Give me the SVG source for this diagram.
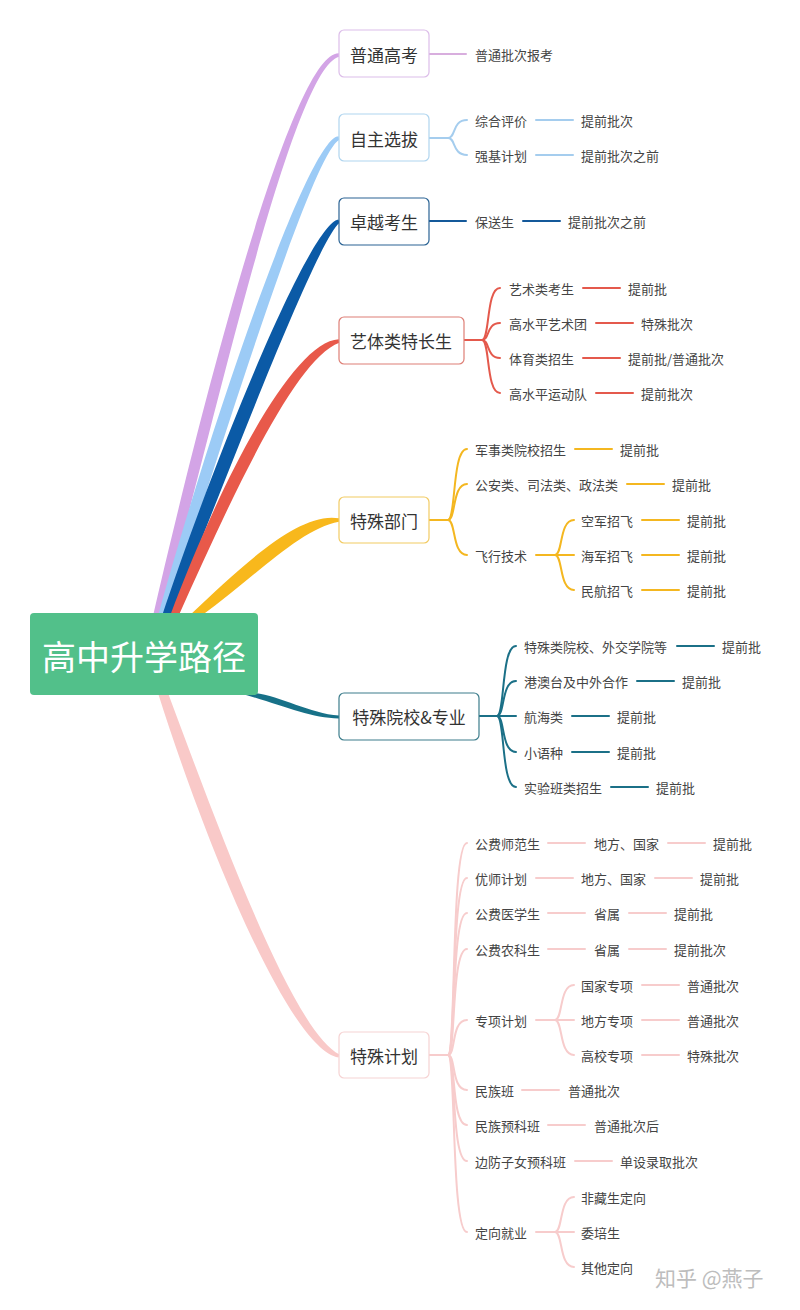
<svg xmlns="http://www.w3.org/2000/svg" width="800" height="1310" viewBox="0 0 800 1310">
<style>
.t{font-family:"Noto Sans CJK SC","Noto Sans",sans-serif;font-size:13px;fill:#444;dominant-baseline:central}
.n{font-family:"Noto Sans CJK SC","Noto Sans",sans-serif;font-size:17px;fill:#333;dominant-baseline:central}
.c{fill:none;stroke-width:2;stroke-linecap:round}
.box{fill:#fff;stroke-width:1.2}
</style>
<rect width="800" height="1310" fill="#fff"/>
<g id="branches">
<path d="M153,616 C191.8,447.8 289.1,51.5 338.9,53.3 L339.1,56.7 C290.9,68.5 208.2,452.2 161,616 Z" fill="#d3a4e6"/>
<path d="M158,616 C206.9,437.5 308,136.7 338.6,136.3 L339.4,139.7 C312,153.3 223.1,442.5 166,616 Z" fill="#9ccbf6"/>
<path d="M162,616 C211.6,466.8 308.1,225.9 338.2,219.4 L339.8,222.6 C315.9,242.1 228.4,473.2 171,616 Z" fill="#0b5aa6"/>
<path d="M170,616 C222.2,476.7 293.3,341.7 338.7,339.3 L339.3,342.7 C296.7,358.3 237.8,483.3 178.5,616 Z" fill="#e8594a"/>
<path d="M189,616 C244.8,563.3 299.6,511.5 339,518.3 L339,521.7 C300.4,528.5 255.2,576.7 201,616 Z" fill="#f8b81c"/>
<path d="M255,693 C280.6,696 310,713.5 339,715.6 L339,718.4 C310,718.5 279.4,704 239,693 Z" fill="#177188"/>
<path d="M168,693 C218,827.2 292.6,1031.9 339.5,1054.4 L338.5,1057.6 C287.4,1048.1 202,832.8 158,693 Z" fill="#f9c9c8"/>
</g>
<g id="connectors">
<g stroke="#d8aede" class="c"><path d="M429,54 H466"/></g>
<g stroke="#a5cdee" class="c">
<path d="M429,138 H448"/><path d="M448,138 C456,138 452,120 467,120"/><path d="M448,138 C456,138 452,155 467,155"/>
<path d="M536,120 H573"/><path d="M536,155 H573"/>
</g>
<g stroke="#14599a" class="c"><path d="M429,221 H466"/><path d="M523,221 H560"/></g>
<g stroke="#e4594c" class="c">
<path d="M464,340 H482"/>
<path d="M482,340 C490,340 486,288 500,288"/><path d="M482,340 C490,340 486,323 500,323"/>
<path d="M482,340 C490,340 486,358 500,358"/><path d="M482,340 C490,340 486,393 500,393"/>
<path d="M583,288 H620"/><path d="M596,323 H633"/><path d="M583,358 H620"/><path d="M596,393 H633"/>
</g>
<g stroke="#f4b720" class="c">
<path d="M429,520 H448"/>
<path d="M448,520 C456,520 452,449 467,449"/><path d="M448,520 C456,520 452,484 467,484"/><path d="M448,520 C456,520 452,555 467,555"/>
<path d="M575,449 H612"/><path d="M627,484 H664"/>
<path d="M536,555 H555"/>
<path d="M555,555 C563,555 559,520 574,520"/><path d="M555,555 H574"/><path d="M555,555 C563,555 559,590 574,590"/>
<path d="M642,520 H679"/><path d="M642,555 H679"/><path d="M642,590 H679"/>
</g>
<g stroke="#1b7087" class="c">
<path d="M479,716 H497"/>
<path d="M497,716 C505,716 501,646 516,646"/><path d="M497,716 C505,716 501,681 516,681"/>
<path d="M497,716 H516"/>
<path d="M497,716 C505,716 501,752 516,752"/><path d="M497,716 C505,716 501,787 516,787"/>
<path d="M677,646 H714"/><path d="M637,681 H674"/><path d="M572,716 H609"/><path d="M572,752 H609"/><path d="M611,787 H648"/>
</g>
<g stroke="#f7cccc" class="c">
<path d="M429,1055 H448"/>
<path d="M448,1055 C456,1055 451,843 467,843"/>
<path d="M448,1055 C456,1055 451,878 467,878"/>
<path d="M448,1055 C456,1055 451,913 467,913"/>
<path d="M448,1055 C456,1055 451,949 467,949"/>
<path d="M448,1055 C456,1055 451,1020 467,1020"/>
<path d="M448,1055 C456,1055 451,1090 467,1090"/>
<path d="M448,1055 C456,1055 451,1125 467,1125"/>
<path d="M448,1055 C456,1055 451,1161 467,1161"/>
<path d="M448,1055 C456,1055 451,1232 467,1232"/>
<path d="M548,843 H585"/><path d="M668,843 H705"/>
<path d="M536,878 H573"/><path d="M655,878 H692"/>
<path d="M548,913 H585"/><path d="M629,913 H666"/>
<path d="M548,949 H585"/><path d="M629,949 H666"/>
<path d="M536,1020 H555"/>
<path d="M555,1020 C563,1020 559,985 574,985"/><path d="M555,1020 H574"/><path d="M555,1020 C563,1020 559,1055 574,1055"/>
<path d="M642,985 H679"/><path d="M642,1020 H679"/><path d="M642,1055 H679"/>
<path d="M522,1090 H559"/>
<path d="M548,1125 H585"/>
<path d="M575,1161 H612"/>
<path d="M536,1232 H555"/>
<path d="M555,1232 C563,1232 559,1197 574,1197"/><path d="M555,1232 H574"/><path d="M555,1232 C563,1232 559,1267 574,1267"/>
</g>
</g>
<g id="root">
<rect x="30" y="613" width="228" height="82" rx="4" fill="#52c08a"/>
<text x="144" y="655" text-anchor="middle" style="font-family:'Noto Sans CJK SC','Noto Sans',sans-serif;font-size:34px;fill:#fff;dominant-baseline:central">高中升学路径</text>
</g>
<g id="n1"><rect class="box" x="339" y="30" width="90" height="47" rx="5" stroke="#dcbde9"/><text class="n" x="384" y="54" text-anchor="middle">普通高考</text></g>
<g id="n2"><rect class="box" x="339" y="114" width="90" height="47" rx="5" stroke="#b0d5ef"/><text class="n" x="384" y="138" text-anchor="middle">自主选拔</text></g>
<g id="n3"><rect class="box" x="339" y="198" width="90" height="47" rx="5" stroke="#2a6394"/><text class="n" x="384" y="221" text-anchor="middle">卓越考生</text></g>
<g id="n4"><rect class="box" x="339" y="317" width="125" height="47" rx="5" stroke="#de7f76"/><text class="n" x="401" y="340" text-anchor="middle">艺体类特长生</text></g>
<g id="n5"><rect class="box" x="339" y="497" width="90" height="46" rx="5" stroke="#f2cb63"/><text class="n" x="384" y="520" text-anchor="middle">特殊部门</text></g>
<g id="n6"><rect class="box" x="339" y="693" width="140" height="47" rx="5" stroke="#3d7d8c"/><text class="n" x="409" y="716" text-anchor="middle">特殊院校&amp;专业</text></g>
<g id="n7"><rect class="box" x="339" y="1032" width="90" height="46" rx="5" stroke="#f6d3d3"/><text class="n" x="384" y="1055" text-anchor="middle">特殊计划</text></g>
<g id="leaves">
<text class="t" x="475" y="54">普通批次报考</text>
<text class="t" x="475" y="120">综合评价</text><text class="t" x="581" y="120">提前批次</text>
<text class="t" x="475" y="155">强基计划</text><text class="t" x="581" y="155">提前批次之前</text>
<text class="t" x="475" y="221">保送生</text><text class="t" x="568" y="221">提前批次之前</text>
<text class="t" x="509" y="288">艺术类考生</text><text class="t" x="628" y="288">提前批</text>
<text class="t" x="509" y="323">高水平艺术团</text><text class="t" x="641" y="323">特殊批次</text>
<text class="t" x="509" y="358">体育类招生</text><text class="t" x="628" y="358">提前批/普通批次</text>
<text class="t" x="509" y="393">高水平运动队</text><text class="t" x="641" y="393">提前批次</text>
<text class="t" x="475" y="449">军事类院校招生</text><text class="t" x="620" y="449">提前批</text>
<text class="t" x="475" y="484">公安类、司法类、政法类</text><text class="t" x="672" y="484">提前批</text>
<text class="t" x="475" y="555">飞行技术</text>
<text class="t" x="581" y="520">空军招飞</text><text class="t" x="687" y="520">提前批</text>
<text class="t" x="581" y="555">海军招飞</text><text class="t" x="687" y="555">提前批</text>
<text class="t" x="581" y="590">民航招飞</text><text class="t" x="687" y="590">提前批</text>
<text class="t" x="524" y="646">特殊类院校、外交学院等</text><text class="t" x="722" y="646">提前批</text>
<text class="t" x="524" y="681">港澳台及中外合作</text><text class="t" x="682" y="681">提前批</text>
<text class="t" x="524" y="716">航海类</text><text class="t" x="617" y="716">提前批</text>
<text class="t" x="524" y="752">小语种</text><text class="t" x="617" y="752">提前批</text>
<text class="t" x="524" y="787">实验班类招生</text><text class="t" x="656" y="787">提前批</text>
<text class="t" x="475" y="843">公费师范生</text><text class="t" x="594" y="843">地方、国家</text><text class="t" x="713" y="843">提前批</text>
<text class="t" x="475" y="878">优师计划</text><text class="t" x="581" y="878">地方、国家</text><text class="t" x="700" y="878">提前批</text>
<text class="t" x="475" y="913">公费医学生</text><text class="t" x="594" y="913">省属</text><text class="t" x="674" y="913">提前批</text>
<text class="t" x="475" y="949">公费农科生</text><text class="t" x="594" y="949">省属</text><text class="t" x="674" y="949">提前批次</text>
<text class="t" x="475" y="1020">专项计划</text>
<text class="t" x="581" y="985">国家专项</text><text class="t" x="687" y="985">普通批次</text>
<text class="t" x="581" y="1020">地方专项</text><text class="t" x="687" y="1020">普通批次</text>
<text class="t" x="581" y="1055">高校专项</text><text class="t" x="687" y="1055">特殊批次</text>
<text class="t" x="475" y="1090">民族班</text><text class="t" x="568" y="1090">普通批次</text>
<text class="t" x="475" y="1125">民族预科班</text><text class="t" x="594" y="1125">普通批次后</text>
<text class="t" x="475" y="1161">边防子女预科班</text><text class="t" x="620" y="1161">单设录取批次</text>
<text class="t" x="475" y="1232">定向就业</text>
<text class="t" x="581" y="1197">非藏生定向</text>
<text class="t" x="581" y="1232">委培生</text>
<text class="t" x="581" y="1267">其他定向</text>
</g>
<text x="655" y="1277" style="font-family:'Noto Sans CJK SC','Noto Sans',sans-serif;font-size:21px;fill:#bdbdbd;dominant-baseline:central">知乎 @燕子</text>
</svg>
